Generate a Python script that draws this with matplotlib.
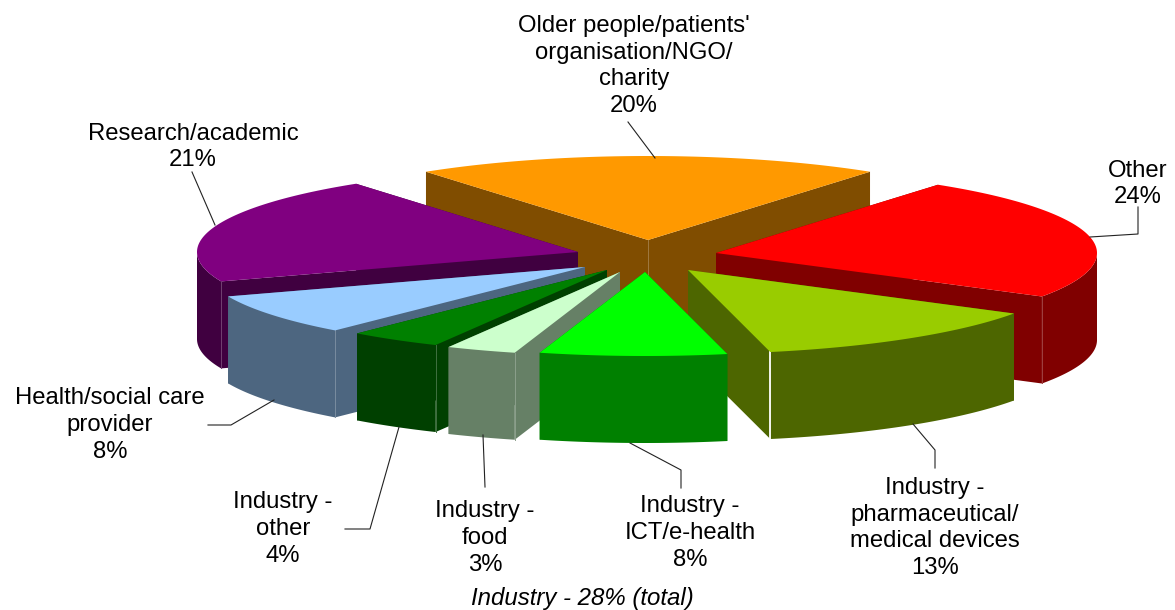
import numpy as np
import matplotlib
matplotlib.use('Agg')
import matplotlib.pyplot as plt

plt.rcParams['font.family'] = ['Liberation Sans', 'DejaVu Sans']

# Share of respondents, clockwise from the top slice
categories = ["Older people/patients'\norganisation/NGO/\ncharity", 'Other',
              'Industry -\npharmaceutical/\nmedical devices', 'Industry -\nICT/e-health',
              'Industry -\nfood', 'Industry -\nother',
              'Health/social care\nprovider', 'Research/academic']
values = [20, 24, 13, 8, 3, 4, 8, 21]
colors = ['#FF9900', '#FF0000', '#99CC00', '#00FF00', '#CCFFCC', '#008000', '#99CCFF', '#800080']

# pie geometry in pixels
rx, ry, depth = 381, 84, 87
apex_x = [648, 716, 688, 645, 620, 607, 585, 578]
apex_y = [240, 253, 270, 272, 272, 270, 267, 252]
draw_order = [0, 7, 1, 6, 2, 5, 4, 3]

label_x = [634, 1138, 935, 690, 485, 283, 110, 193]
label_y = [66, 184, 528, 533, 538, 529, 425, 147]
leaders = {
    0: [(628, 122), (655, 158)],
    1: [(1138, 207), (1138, 234), (1090, 237)],
    2: [(935, 468), (935, 450), (913, 424)],
    3: [(681, 488), (681, 470), (630, 443)],
    4: [(485, 487), (483, 435)],
    5: [(345, 529), (370, 529), (399, 427)],
    6: [(208, 425), (231, 425), (274, 400)],
    7: [(192, 172), (215, 225)],
}


def ellipse_pts(x0, y0, a0, a1):
    # angles in degrees, clockwise from top
    t = np.radians(np.linspace(a0, a1, 80))
    return x0 + rx * np.sin(t), y0 - ry * np.cos(t)


def darker(c):
    return tuple(v * 0.5 for v in matplotlib.colors.to_rgb(c))


fig = plt.figure(figsize=(11.75, 6.1), dpi=100)
ax = fig.add_axes([0, 0, 1, 1])
ax.set_xlim(0, 1175)
ax.set_ylim(610, 0)
ax.axis('off')

edges = np.cumsum([0] + values) / sum(values) * 360 - values[0] / sum(values) * 180

for n, i in enumerate(draw_order):
    z = n + 1  # painter's order, back slices first
    a0, a1 = edges[i], edges[i + 1]
    x, y = ellipse_pts(apex_x[i], apex_y[i], a0, a1)
    side = darker(colors[i])
    seam_c = 'white' if i == 2 else tuple(0.75 * v + 0.25 for v in side)
    # radial walls
    for ex, ey in [(x[0], y[0]), (x[-1], y[-1])]:
        ax.fill([apex_x[i], ex, ex, apex_x[i]],
                [apex_y[i], ey, ey + depth, apex_y[i] + depth], color=side, lw=0, zorder=z)
    # rim, front-facing part only
    f0, f1 = max(a0, 90), min(a1, 270)
    if f0 < f1:
        rim_x, rim_y = ellipse_pts(apex_x[i], apex_y[i], f0, f1)
        ax.fill(np.r_[rim_x, rim_x[::-1]], np.r_[rim_y, rim_y[::-1] + depth],
                color=side, lw=0, zorder=z)
    # faint seam where the rim meets the visible wall
    seam = a1 if 90 < a1 < 180 else (a0 if 180 < a0 < 270 else None)
    if seam is not None:
        sx, sy = ellipse_pts(apex_x[i], apex_y[i], seam, seam)
        ax.plot([sx[0], sx[0]], [sy[0], sy[0] + depth], color=seam_c,
                lw=1.3 if i == 2 else 0.7, zorder=z)
    if i == 0:
        ax.plot([apex_x[i], apex_x[i]], [apex_y[i], apex_y[i] + depth], color=seam_c, lw=0.7, zorder=z)
    # top
    ax.fill(np.r_[apex_x[i], x], np.r_[apex_y[i], y], color=colors[i], lw=0, zorder=z)

for i, cat in enumerate(categories):
    ax.text(label_x[i], label_y[i], f'{cat}\n{values[i]}%', ha='center', va='center',
            fontsize=17.2, linespacing=1.27, color='black', zorder=20)
    pts = np.array(leaders[i])
    ax.plot(pts[:, 0], pts[:, 1], color='#222222', lw=0.8, zorder=20)

ax.text(582, 598, 'Industry - 28% (total)', ha='center', va='center', fontsize=17.3, style='italic')

fig.savefig('out.png', dpi=100)
